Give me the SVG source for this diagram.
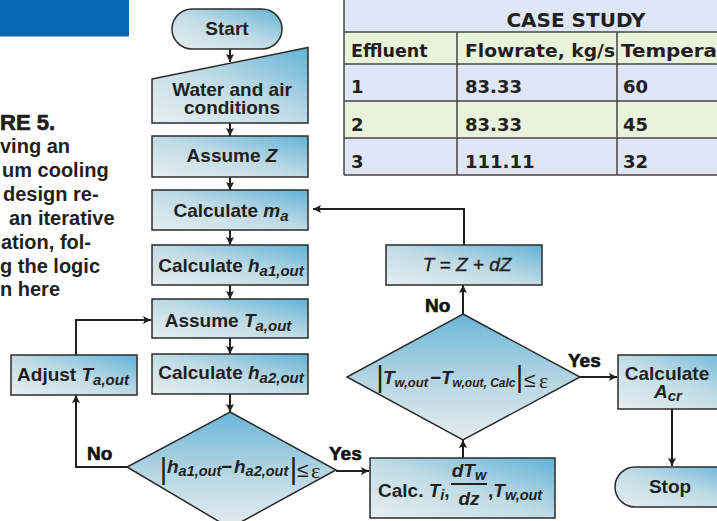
<svg xmlns="http://www.w3.org/2000/svg" width="717" height="521" viewBox="0 0 717 521">
  <defs>
    <linearGradient id="boxFill" x1="0" y1="1" x2="1" y2="0">
      <stop offset="0" stop-color="#e6eff0"/>
      <stop offset="0.5" stop-color="#c0dbe5"/>
      <stop offset="1" stop-color="#62b2d6"/>
    </linearGradient>
    <linearGradient id="diaFill" x1="0" y1="0" x2="0" y2="1">
      <stop offset="0" stop-color="#6ab5d8"/>
      <stop offset="0.55" stop-color="#b9d7e3"/>
      <stop offset="1" stop-color="#e4edef"/>
    </linearGradient>
    <marker id="ah" viewBox="0 0 10 10" refX="10" refY="5" markerWidth="8" markerHeight="8" markerUnits="userSpaceOnUse" orient="auto">
      <path d="M0,0 L10,5 L0,10 L2,5 Z" fill="#231f20"/>
    </marker>
  </defs>
  <style>
    .shape { fill: url(#boxFill); stroke: #2b2b2b; stroke-width: 1.5; }
    .dia { fill: url(#diaFill); stroke: #2b2b2b; stroke-width: 1.5; }
    .lbl { font-family: "Liberation Sans", Arial, sans-serif; font-weight: bold; font-size: 19px; fill: #231f20; text-anchor: middle; }
    .it { font-style: italic; }
    .sub { font-size: 15px; font-style: italic; }
    .math { font-family: "Liberation Sans", Arial, sans-serif; font-weight: bold; font-size: 19px; fill: #231f20; }
    .mi { font-style: italic; }
    .ms { font-size: 14.5px; font-style: italic; }
    .ms-sm { font-size: 13px; font-style: italic; }
    .ms-xs { font-size: 12px; font-style: italic; }
    .bar { font-family: "Liberation Sans", Arial, sans-serif; font-size: 29px; fill: #231f20; text-anchor: middle; }
    .rel { font-family: "Liberation Sans", Arial, sans-serif; font-size: 21px; fill: #231f20; }
    .eps { font-family: "Liberation Serif", "Times New Roman", serif; font-size: 22px; fill: #231f20; }
    .yn { font-family: "Liberation Sans", Arial, sans-serif; font-weight: bold; font-size: 19px; fill: #111; stroke: #111; stroke-width: 0.6; }
    .cap { font-family: "Liberation Sans", Arial, sans-serif; font-weight: bold; font-size: 20px; fill: #231f20; }
    .cap-head { font-size: 22px; stroke: #231f20; stroke-width: 0.7; }
    .tbl { font-family: "DejaVu Sans", Verdana, sans-serif; font-weight: bold; fill: #231f20; }
    .grid { stroke: #454545; stroke-width: 1.5; fill: none; }
    .conn path { fill: none; stroke: #231f20; stroke-width: 2; }
    .plain { font-weight: normal; font-style: italic; stroke: #231f20; stroke-width: 0.4; }
  </style>

  <!-- header band and caption -->
  <rect x="0" y="0" width="129" height="36.5" fill="#0a67b3"/>
  <g id="caption">
    <text class="cap cap-head" x="0" y="130">RE 5.</text>
    <text class="cap" x="0" y="153">ving an</text>
    <text class="cap" x="2" y="177">um cooling</text>
    <text class="cap" x="3" y="201">design re-</text>
    <text class="cap" x="9" y="225">an iterative</text>
    <text class="cap" x="1" y="249">ation, fol-</text>
    <text class="cap" x="0" y="273">g the logic</text>
    <text class="cap" x="0" y="296">n here</text>
  </g>

  <!-- case study table -->
  <g id="table">
    <rect x="344" y="0" width="380" height="32" fill="#dfe6f5"/>
    <rect x="344" y="32" width="380" height="32" fill="#e9f2db"/>
    <rect x="344" y="64" width="380" height="37" fill="#dfe6f5"/>
    <rect x="344" y="101" width="380" height="37" fill="#e9f2db"/>
    <rect x="344" y="138" width="380" height="37" fill="#dfe6f5"/>
    <path class="grid" d="M344,0 V175 M344,32 H717 M344,64 H717 M344,101 H717 M344,138 H717 M344,175 H717 M457,32 V175 M617,32 V175"/>
    <text class="tbl" x="576" y="26.5" font-size="20" text-anchor="middle">CASE STUDY</text>
    <text class="tbl" x="351" y="56.5" font-size="17.5">Effluent</text>
    <text class="tbl" x="465" y="56.5" font-size="17.5" textLength="150" lengthAdjust="spacingAndGlyphs">Flowrate, kg/s</text>
    <text class="tbl" x="621" y="56.5" font-size="17.5" textLength="96" lengthAdjust="spacingAndGlyphs">Tempera</text>
    <text class="tbl" x="351" y="93" font-size="18">1</text>
    <text class="tbl" x="465" y="93" font-size="18">83.33</text>
    <text class="tbl" x="623" y="93" font-size="18">60</text>
    <text class="tbl" x="351" y="131" font-size="18">2</text>
    <text class="tbl" x="465" y="131" font-size="18">83.33</text>
    <text class="tbl" x="623" y="131" font-size="18">45</text>
    <text class="tbl" x="351" y="168" font-size="18">3</text>
    <text class="tbl" x="465" y="168" font-size="18">111.11</text>
    <text class="tbl" x="623" y="168" font-size="18">32</text>
  </g>

  <!-- connectors -->
  <g id="connectors" class="conn">
    <path d="M230,49 V62" marker-end="url(#ah)"/>
    <path d="M230,123 V136" marker-end="url(#ah)"/>
    <path d="M230,177 V190" marker-end="url(#ah)"/>
    <path d="M230,230 V245" marker-end="url(#ah)"/>
    <path d="M230,285 V299" marker-end="url(#ah)"/>
    <path d="M230,338 V354" marker-end="url(#ah)"/>
    <path d="M230,394 V412" marker-end="url(#ah)"/>
    <path d="M128,467 H76 V395" marker-end="url(#ah)"/>
    <path d="M76,355 V320 H151" marker-end="url(#ah)"/>
    <path d="M336,471 H369" marker-end="url(#ah)"/>
    <path d="M463,458 V440" marker-end="url(#ah)"/>
    <path d="M463,314 V285" marker-end="url(#ah)"/>
    <path d="M464,245 V209 H313" marker-end="url(#ah)"/>
    <path d="M580,377 H617" marker-end="url(#ah)"/>
    <path d="M672,409 V466" marker-end="url(#ah)"/>
  </g>

  <!-- nodes -->
  <g id="start">
    <rect class="shape" x="172" y="9" width="110" height="40" rx="20"/>
    <text class="lbl" x="227" y="35">Start</text>
  </g>
  <g id="conditions">
    <path class="shape" d="M152,79 L308,47.5 L308,123 L152,123 Z"/>
    <text class="lbl"><tspan x="232" y="95.5">Water and air</tspan><tspan x="232" dy="18.5">conditions</tspan></text>
  </g>
  <g id="assume-z">
    <rect class="shape" x="152" y="136" width="156" height="41"/>
    <text class="lbl" x="232" y="162">Assume <tspan class="it">Z</tspan></text>
  </g>
  <g id="calc-ma">
    <rect class="shape" x="152" y="190" width="156" height="40"/>
    <text class="lbl" x="231" y="217">Calculate <tspan class="it">m</tspan><tspan class="sub" dy="4">a</tspan></text>
  </g>
  <g id="calc-ha1">
    <rect class="shape" x="152" y="245" width="156" height="40"/>
    <text class="lbl" x="231" y="272">Calculate <tspan class="it">h</tspan><tspan class="sub" dy="4">a1,out</tspan></text>
  </g>
  <g id="assume-ta">
    <rect class="shape" x="152" y="299" width="156" height="39"/>
    <text class="lbl" x="228" y="327">Assume <tspan class="it">T</tspan><tspan class="sub" dy="4">a,out</tspan></text>
  </g>
  <g id="calc-ha2">
    <rect class="shape" x="152" y="354" width="156" height="40"/>
    <text class="lbl" x="231" y="379">Calculate <tspan class="it">h</tspan><tspan class="sub" dy="4">a2,out</tspan></text>
  </g>
  <g id="adjust-ta">
    <rect class="shape" x="11" y="355" width="126" height="40"/>
    <text class="lbl" x="73" y="381">Adjust <tspan class="it">T</tspan><tspan class="sub" dy="4">a,out</tspan></text>
  </g>
  <g id="check-h">
    <path class="dia" d="M230,412 L336,470 L230,528 L127,467 Z"/>
    <text class="bar" x="163.5" y="479">|</text>
    <text class="math" y="473"><tspan x="167" class="mi">h</tspan><tspan class="ms" dy="3">a1,out</tspan><tspan x="221" dy="-3">−</tspan><tspan x="234" class="mi">h</tspan><tspan class="ms" dy="3">a2,out</tspan></text>
    <text class="bar" x="293.5" y="479">|</text>
    <text class="rel" x="297" y="477">≤</text>
    <text class="eps" x="311" y="478">ε</text>
  </g>
  <g id="calc-tw">
    <rect class="shape" x="370" y="458" width="185" height="60"/>
    <text class="math" x="378" y="497">Calc. <tspan class="mi">T</tspan><tspan class="ms" dy="3">i</tspan><tspan dy="-3">,</tspan></text>
    <text class="math" x="469" y="477" text-anchor="middle"><tspan class="mi">dT</tspan><tspan class="ms" dy="3">w</tspan></text>
    <path d="M451,484 H487" stroke="#231f20" stroke-width="1.8"/>
    <text class="math mi" x="469" y="505" text-anchor="middle">dz</text>
    <text class="math" x="488" y="497">,<tspan class="mi">T</tspan><tspan class="ms" dy="3">w,out</tspan></text>
  </g>
  <g id="check-tw">
    <path class="dia" d="M463,314 L580,377 L463,440 L347,377 Z"/>
    <text class="bar" x="380" y="387">|</text>
    <text class="math" y="384"><tspan x="383" class="mi">T</tspan><tspan class="ms-sm" dy="3">w,out</tspan><tspan x="430" dy="-3">−</tspan><tspan x="441" class="mi">T</tspan><tspan class="ms-xs" dy="3">w,out, Calc</tspan></text>
    <text class="bar" x="519.5" y="387">|</text>
    <text class="rel" x="524" y="387">≤</text>
    <text class="eps" x="539" y="388">ε</text>
  </g>
  <g id="update-t">
    <rect class="shape" x="386" y="245" width="156" height="40"/>
    <text class="lbl plain" x="467" y="271">T = Z + dZ</text>
  </g>
  <g id="calc-acr">
    <rect class="shape" x="618" y="355" width="130" height="54"/>
    <text class="lbl"><tspan x="667" y="380">Calculate</tspan><tspan x="668" dy="18" class="it">A</tspan><tspan class="sub" dy="3">cr</tspan></text>
  </g>
  <g id="stop">
    <rect class="shape" x="615" y="467" width="130" height="40" rx="20"/>
    <text class="lbl" x="670" y="493">Stop</text>
  </g>

  <!-- branch labels -->
  <g id="branch-labels">
    <text class="yn" x="87" y="460">No</text>
    <text class="yn" x="329" y="460">Yes</text>
    <text class="yn" x="425" y="312">No</text>
    <text class="yn" x="568" y="367">Yes</text>
  </g>
</svg>
